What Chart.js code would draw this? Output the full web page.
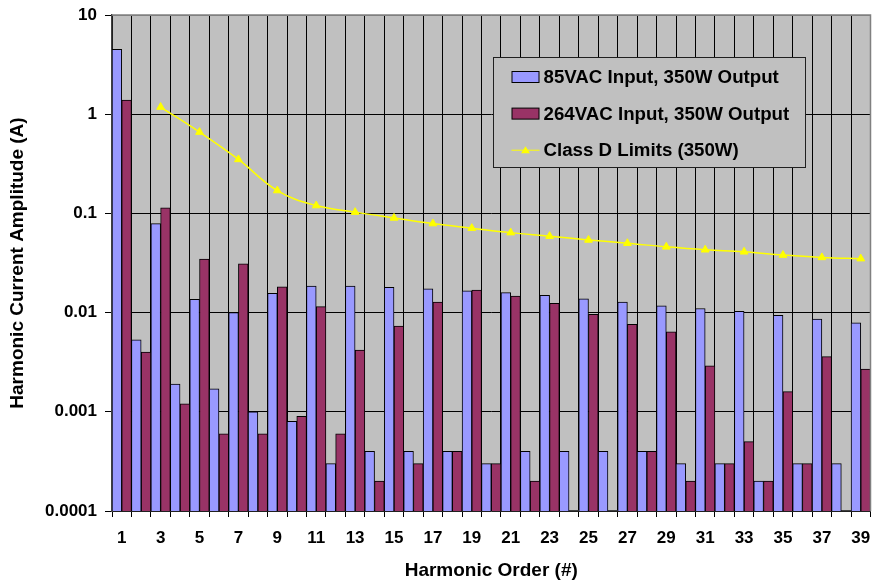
<!DOCTYPE html>
<html>
<head>
<meta charset="utf-8">
<script src="https://cdn.jsdelivr.net/npm/chart.js@4.4.1/dist/chart.umd.min.js"></script>
<style>
  body { margin: 0; background: #fff; }
  #wrap { width: 876px; height: 587px; }
</style>
</head>
<body>
<div id="wrap"><canvas id="harmonicsChart"></canvas></div>
<script>
// harmonic order 1..39
const harmonics = ['1','2','3','4','5','6','7','8','9','10','11','12','13','14','15','16','17','18','19','20',
    '21','22','23','24','25','26','27','28','29','30','31','32','33','34','35','36','37','38','39'];

const input85 = [4.5, 0.0053, 0.079, 0.0019, 0.0136, 0.0017, 0.010, 0.001, 0.0156, 0.0008,
    0.0185, 0.0003, 0.0185, 0.0004, 0.018, 0.0004, 0.0174, 0.0004, 0.0166, 0.0003,
    0.0159, 0.0004, 0.0149, 0.0004, 0.0138, 0.0004, 0.0128, 0.0004, 0.0117, 0.0003,
    0.011, 0.0003, 0.0103, 0.0002, 0.0094, 0.0003, 0.0086, 0.0003, 0.0079];

const input264 = [1.39, 0.0040, 0.114, 0.0012, 0.0347, 0.0006, 0.031, 0.0006, 0.0182, 0.0009,
    0.0115, 0.0006, 0.0042, 0.0002, 0.0073, 0.0003, 0.0128, 0.0004, 0.0169, 0.0003,
    0.0147, 0.0002, 0.0124, null, 0.0096, null, 0.0076, 0.0004, 0.0064, 0.0002,
    0.0029, 0.0003, 0.0005, 0.0002, 0.0016, 0.0003, 0.0036, null, 0.0027];

// class D limits, odd harmonics only
const classD = [null, null, 1.18, null, 0.66, null, 0.35, null, 0.17, null,
    0.12, null, 0.103, null, 0.09, null, 0.079, null, 0.071, null,
    0.064, null, 0.059, null, 0.054, null, 0.050, null, 0.046, null,
    0.043, null, 0.041, null, 0.038, null, 0.036, null, 0.035];

const yTicks = [0.0001, 0.001, 0.01, 0.1, 1, 10];

const FONT = "'Liberation Sans', Arial, sans-serif";

const plotBackground = {
    id: 'plotBackground',
    beforeDraw(chart) {
        const { ctx, chartArea: a } = chart;
        ctx.save();
        ctx.fillStyle = '#C0C0C0';
        ctx.fillRect(a.left, a.top, a.right - a.left, a.bottom - a.top);
        ctx.restore();
    },
    afterDraw(chart) {
        const { ctx, chartArea: a } = chart;
        ctx.save();
        // grey frame top / right
        ctx.strokeStyle = '#808080';
        ctx.lineWidth = 1.5;
        ctx.beginPath();
        ctx.moveTo(a.left, a.top);
        ctx.lineTo(a.right, a.top);
        ctx.lineTo(a.right, a.bottom);
        ctx.stroke();

        // legend box inside plot
        const x = a.left + 381.5, y = a.top + 42.5, w = 312, h = 110;
        ctx.fillStyle = '#C0C0C0';
        ctx.fillRect(x, y, w, h);
        ctx.strokeStyle = '#202020';
        ctx.lineWidth = 1;
        ctx.strokeRect(x, y, w, h);

        const ds = chart.data.datasets;
        const items = [ds[1], ds[2], ds[0]];
        ctx.font = 'bold 18.7px ' + FONT;
        ctx.textBaseline = 'middle';
        items.forEach((d, i) => {
            const cy = y + 19.5 + i * 36.6;
            if (d.type === 'line') {
                ctx.strokeStyle = d.borderColor;
                ctx.lineWidth = 1;
                ctx.beginPath();
                ctx.moveTo(x + 18, cy);
                ctx.lineTo(x + 46, cy);
                ctx.stroke();
                ctx.fillStyle = d.pointBackgroundColor;
                ctx.beginPath();
                ctx.moveTo(x + 32, cy - 4);
                ctx.lineTo(x + 36.5, cy + 3);
                ctx.lineTo(x + 27.5, cy + 3);
                ctx.closePath();
                ctx.fill();
            } else {
                ctx.fillStyle = d.backgroundColor;
                ctx.fillRect(x + 18.5, cy - 5.5, 27, 11);
                ctx.strokeStyle = '#000';
                ctx.strokeRect(x + 18.5, cy - 5.5, 27, 11);
            }
            ctx.fillStyle = '#000';
            ctx.fillText(d.label, x + 50, cy + 1);
        });
        ctx.restore();
    }
};

const ctx = document.getElementById('harmonicsChart');

new Chart(ctx, {
    type: 'bar',
    data: {
        labels: harmonics,
        datasets: [{
            type: 'line',
            label: 'Class D Limits (350W)',
            data: classD,
            borderColor: '#FFFF00',
            borderWidth: 1.5,
            pointStyle: 'triangle',
            pointRadius: 4.5,
            pointBackgroundColor: '#FFFF00',
            pointBorderColor: '#FFFF00',
            pointBorderWidth: 1,
            tension: 0.4,
            spanGaps: true,
            order: 0,
        }, {
            label: '85VAC Input, 350W Output',
            data: input85,
            backgroundColor: '#9999FF',
            borderColor: '#000',
            borderWidth: 1,
            barPercentage: 1,
            categoryPercentage: 1,
            order: 1,
        }, {
            label: '264VAC Input, 350W Output',
            data: input264,
            backgroundColor: '#993366',
            borderColor: '#000',
            borderWidth: 1,
            barPercentage: 1,
            categoryPercentage: 1,
            order: 1,
        }]
    },
    options: {
        responsive: true,
        maintainAspectRatio: false,
        animation: false,
        layout: { padding: { top: 15, right: 4, left: 0, bottom: 0 } },
        plugins: {
            legend: { display: false },
            tooltip: { enabled: false },
        },
        scales: {
            x: {
                afterFit: (scale) => {
                    scale.height = 76;
                    scale.paddingLeft = 0;
                    scale.paddingRight = 0;
                },
                grid: {
                    color: (c) => c.tick ? '#000' : '#808080',
                    tickColor: '#000',
                    tickLength: 6,
                    lineWidth: 1,
                },
                border: { color: '#404040', width: 1.5 },
                ticks: {
                    autoSkip: false,
                    maxRotation: 0,
                    padding: 11,
                    color: '#000',
                    font: { family: FONT, size: 17, weight: 'bold' },
                    callback: function (value, index) {
                        return index % 2 === 0 ? this.getLabelForValue(value) : '';
                    }
                },
                title: {
                    display: true,
                    text: 'Harmonic Order (#)',
                    color: '#000',
                    font: { family: FONT, size: 19, weight: 'bold' },
                    padding: { top: 0, bottom: 5 },
                }
            },
            y: {
                type: 'logarithmic',
                min: 0.0001,
                max: 10,
                afterFit: (scale) => {
                    scale.width = 112;
                    scale.paddingTop = 0;
                    scale.paddingBottom = 0;
                },
                afterBuildTicks: (scale) => { scale.ticks = yTicks.map(v => ({ value: v })); },
                grid: {
                    color: (c) => (c.tick && c.tick.value === 10) ? '#808080' : '#000',
                    tickColor: '#000',
                    tickLength: 7,
                    lineWidth: 1,
                },
                border: { color: '#404040', width: 1.5 },
                ticks: {
                    padding: 8,
                    color: '#000',
                    font: { family: FONT, size: 17, weight: 'bold' },
                    callback: (value) => String(value),
                },
                title: {
                    display: true,
                    text: 'Harmonic Current Amplitude (A)',
                    color: '#000',
                    font: { family: FONT, size: 19, weight: 'bold' },
                    padding: { top: 6, bottom: 0 },
                }
            }
        }
    },
    plugins: [plotBackground]
});
</script>
</body>
</html>
